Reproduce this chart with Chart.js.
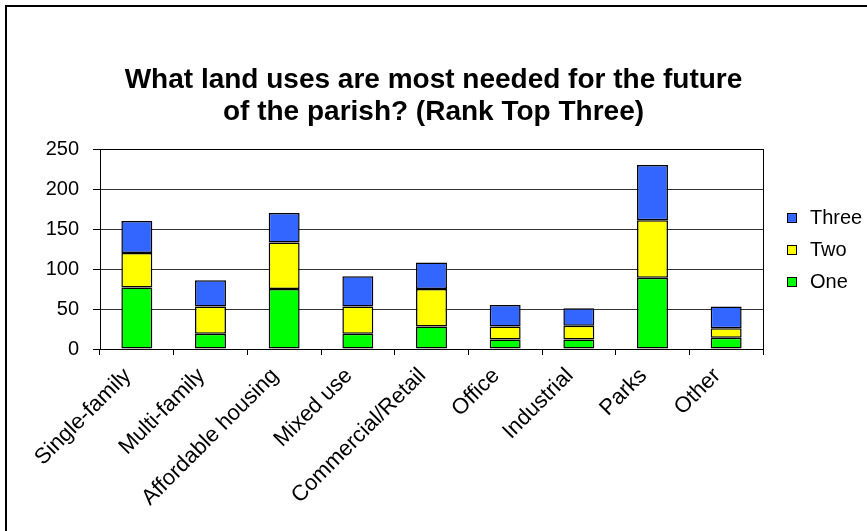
<!DOCTYPE html>
<html>
<head>
<meta charset="utf-8">
<script src="https://cdn.jsdelivr.net/npm/chart.js@4/dist/chart.umd.min.js"></script>
<style>
  html, body { margin: 0; padding: 0; background: #fff; }
  #wrap { width: 867px; height: 531px; }
</style>
</head>
<body>
<div id="wrap"><canvas id="landUse" width="867" height="531"></canvas></div>
<script>
// Survey data
const categories = ['Single-family', 'Multi-family', 'Affordable housing', 'Mixed use',
  'Commercial/Retail', 'Office', 'Industrial', 'Parks', 'Other'];
const rankOne   = [77, 19, 75, 19, 28, 12, 12, 89, 14];
const rankTwo   = [43, 34, 58, 34, 47, 16, 17, 72, 12];
const rankThree = [40, 33, 37, 38, 33, 27, 22, 69, 27];
const yTicks = [0, 50, 100, 150, 200, 250];

const FONT = "'Liberation Sans', Arial, sans-serif";

// outer frame + plot-area border
const framePlugin = {
  id: 'frame',
  beforeDraw(chart) {
    const c = chart.ctx;
    c.save();
    c.fillStyle = '#fff';
    c.fillRect(0, 0, chart.width, chart.height);
    c.strokeStyle = '#000';
    c.lineWidth = 2;
    c.strokeRect(6, 6, chart.width + 20, chart.height + 20);
    c.restore();
  },
  afterDatasetsDraw(chart) {
    const a = chart.chartArea, c = chart.ctx;
    c.save();
    c.strokeStyle = '#000';
    c.lineWidth = 1;
    c.strokeRect(Math.round(a.left) + 0.5, Math.round(a.top) + 0.5,
      Math.round(a.right - a.left), Math.round(a.bottom - a.top));
    c.restore();
  }
};

// legend as its own layout box on the right so the title stays centred on the page
const sideLegend = {
  id: 'sideLegend',
  beforeInit(chart) {
    const box = {
      position: 'right', weight: 10, fullSize: false,
      options: { stackWeight: 1 },
      left: 0, top: 0, right: 0, bottom: 0, width: 0, height: 0,
      isHorizontal() { return false; },
      update(maxW, maxH) { this.width = 104; this.height = maxH; },
      draw() {
        const c = chart.ctx;
        const a = chart.chartArea;
        const mid = (a.top + a.bottom) / 2;
        const sets = chart.data.datasets.slice().reverse();
        c.save();
        c.font = '20px ' + FONT;
        c.textBaseline = 'middle';
        sets.forEach((ds, i) => {
          const y = Math.round(mid + (i - 1) * 32) + 1;
          c.fillStyle = ds.backgroundColor;
          c.fillRect(this.left + 24, y - 5, 10, 10);
          c.strokeStyle = '#000';
          c.lineWidth = 1;
          c.strokeRect(this.left + 24.5, y - 4.5, 9, 9);
          c.fillStyle = '#000';
          c.fillText(ds.label, this.left + 47, y);
        });
        c.restore();
      }
    };
    Chart.layouts.addBox(chart, box);
  }
};

new Chart(document.getElementById('landUse'), {
  type: 'bar',
  data: {
    labels: categories,
    datasets: [
      { label: 'One',   data: rankOne,   backgroundColor: '#00FF00' },
      { label: 'Two',   data: rankTwo,   backgroundColor: '#FFFF00' },
      { label: 'Three', data: rankThree, backgroundColor: '#3366FF' }
    ]
  },
  options: {
    responsive: false,
    animation: false,
    layout: { padding: { left: 0, right: 0, top: 0, bottom: 0 } },
    datasets: {
      bar: { borderColor: '#000', borderWidth: 1.5, borderSkipped: false,
             barPercentage: 0.42, categoryPercentage: 1 }
    },
    plugins: {
      legend: { display: false },
      tooltip: { enabled: false },
      title: {
        display: true,
        text: ['What land uses are most needed for the future', 'of the parish? (Rank Top Three)'],
        color: '#000',
        font: { family: FONT, size: 28, weight: 'bold', lineHeight: 32 / 28 },
        padding: { top: 64, bottom: 21 }
      }
    },
    scales: {
      x: {
        stacked: true,
        afterFit(s) { s.height = 182; },
        grid: { offset: true, drawOnChartArea: false, color: '#000', tickLength: 6 },
        border: { color: '#000' },
        ticks: { color: '#000', font: { family: FONT, size: 22 }, maxRotation: 45, minRotation: 45,
                 padding: 8, labelOffset: -9 }
      },
      y: {
        stacked: true,
        min: 0, max: 250,
        afterFit(s) { s.width = 100; },
        afterBuildTicks(s) { s.ticks = yTicks.map(v => ({ value: v })); },
        grid: { color: '#333', tickColor: '#000', tickLength: 7 },
        border: { color: '#000' },
        ticks: { color: '#000', font: { family: FONT, size: 20 }, padding: 14 }
      }
    }
  },
  plugins: [framePlugin, sideLegend]
});
</script>
</body>
</html>
